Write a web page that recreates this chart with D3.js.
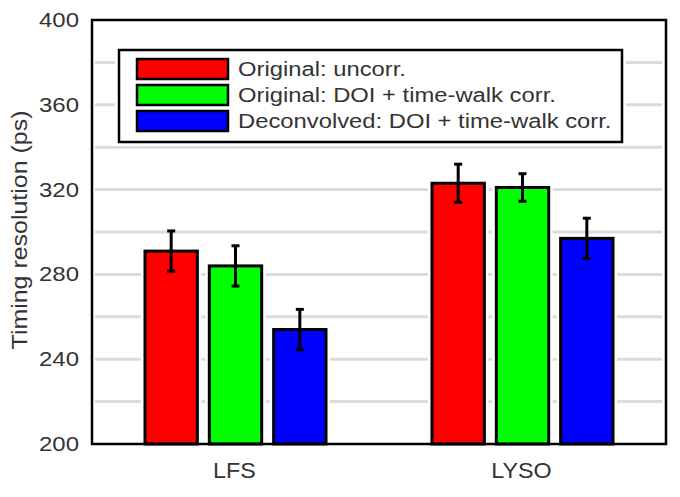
<!DOCTYPE html>
<html lang="en">
<head>
<meta charset="UTF-8">
<title>Timing resolution</title>
<script src="https://d3js.org/d3.v7.min.js"></script>
<style>
    body { margin: 0; background: #fff; }
    text { font-family: "Liberation Sans", Arial, sans-serif; fill: #333; }
</style>
</head>
<body>
<svg width="680" height="497"></svg>
<script>
// data
const crystals = ["LFS", "LYSO"];
const seriesNames = ["Original: uncorr.", "Original: DOI + time-walk corr.", "Deconvolved: DOI + time-walk corr."];
const seriesColors = ["#ff0000", "#00ff00", "#0000ff"];
const lfsValues = [291, 284, 254];
const lfsErrors = [9.5, 9.5, 9.5];
const lysoValues = [323, 321, 297];
const lysoErrors = [9, 6.5, 9.5];
const yTicks = [200, 240, 280, 320, 360, 400];
const gridValues = [220, 240, 260, 280, 300, 320, 340, 360, 380];

const groups = [
    { name: crystals[0], values: lfsValues, errors: lfsErrors },
    { name: crystals[1], values: lysoValues, errors: lysoErrors }
];

const svg = d3.select("svg");
const margin = { left: 92, right: 14, top: 20, bottom: 53 };
const width = 680 - margin.left - margin.right;
const height = 497 - margin.top - margin.bottom;
const g = svg.append("g").attr("transform", `translate(${margin.left},${margin.top})`);

const x0 = d3.scaleBand().domain(crystals).range([0, width]);
const x1 = d3.scaleBand().domain(d3.range(3)).range([-90.5, 90.5]).paddingInner(0.186).paddingOuter(0);
const y = d3.scaleLinear().domain([200, 400]).range([height, 0]);

// the source font is wider than Liberation Sans, so text is stretched along its run
const wide = (sel, x, y, s) => sel.attr("transform", (d, i) =>
    `translate(${typeof x === "function" ? x(d, i) : x},${typeof y === "function" ? y(d, i) : y}) scale(${s},1)`);

// grid
g.append("g").selectAll("line")
    .data(gridValues).enter().append("line")
    .attr("x1", 3).attr("x2", width - 4)
    .attr("y1", d => y(d)).attr("y2", d => y(d))
    .attr("stroke", "#dcdcdc").attr("stroke-width", 3);

// bars (white halo first so the grid stops short of them)
const grp = g.selectAll(".grp").data(groups).enter().append("g")
    .attr("transform", d => `translate(${x0(d.name) + x0.bandwidth() / 2},0)`);

grp.selectAll(".halo").data(d => d.values).enter().append("rect")
    .attr("x", (d, i) => x1(i) - 4).attr("width", x1.bandwidth() + 8)
    .attr("y", d => y(d) - 4).attr("height", d => height - y(d) + 4)
    .attr("fill", "#fff");

grp.selectAll(".bar").data(d => d.values).enter().append("rect")
    .attr("x", (d, i) => x1(i)).attr("width", x1.bandwidth())
    .attr("y", d => y(d)).attr("height", d => height - y(d))
    .attr("fill", (d, i) => seriesColors[i])
    .attr("stroke", "#000").attr("stroke-width", 3);

// error bars
grp.each(function (d) {
    const eb = d3.select(this).selectAll(".err").data(d.values.map((v, i) => ({ v, e: d.errors[i], i })))
        .enter().append("g");
    eb.append("line")
        .attr("x1", e => x1(e.i) + x1.bandwidth() / 2).attr("x2", e => x1(e.i) + x1.bandwidth() / 2)
        .attr("y1", e => y(e.v + e.e)).attr("y2", e => y(e.v - e.e))
        .attr("stroke", "#000").attr("stroke-width", 3);
    eb.selectAll(".cap").data(e => [e.v + e.e, e.v - e.e].map(c => ({ c, i: e.i }))).enter().append("line")
        .attr("x1", c => x1(c.i) + x1.bandwidth() / 2 - 4).attr("x2", c => x1(c.i) + x1.bandwidth() / 2 + 4)
        .attr("y1", c => y(c.c)).attr("y2", c => y(c.c))
        .attr("stroke", "#000").attr("stroke-width", 3);
});

// frame
g.append("rect").attr("width", width).attr("height", height)
    .attr("fill", "none").attr("stroke", "#000").attr("stroke-width", 2.5);

// y tick labels
g.append("g").selectAll("text").data(yTicks).enter().append("text")
    .call(wide, -13, d => y(d), 1.2)
    .attr("dy", "0.35em")
    .attr("text-anchor", "end").attr("font-size", 20)
    .text(d => d);

// x labels
g.append("g").selectAll("text").data(crystals).enter().append("text")
    .call(wide, d => x0(d) + x0.bandwidth() / 2 - 1, height + 34, 1.06)
    .attr("text-anchor", "middle").attr("font-size", 22)
    .text(d => d);

// y title
svg.append("text")
    .attr("transform", "translate(27,230) rotate(-90) scale(1.085,1)")
    .attr("text-anchor", "middle").attr("font-size", 23)
    .text("Timing resolution (ps)");

// legend
const lg = g.append("g").attr("transform", "translate(27,30)");
lg.append("rect").attr("x", -4).attr("y", -4).attr("width", 511).attr("height", 100).attr("fill", "#fff");
lg.append("rect").attr("width", 503).attr("height", 92)
    .attr("fill", "#fff").attr("stroke", "#000").attr("stroke-width", 2.5);
const row = lg.selectAll(".row").data(seriesNames).enter().append("g")
    .attr("transform", (d, i) => `translate(18,${9 + i * 26})`);
row.append("rect").attr("width", 91).attr("height", 20)
    .attr("fill", (d, i) => seriesColors[i]).attr("stroke", "#000").attr("stroke-width", 2.5);
row.append("text")
    .call(wide, 101, 10, 1.19)
    .attr("dy", "0.35em")
    .attr("font-size", 20).attr("fill", "#111")
    .text(d => d);
</script>
</body>
</html>
